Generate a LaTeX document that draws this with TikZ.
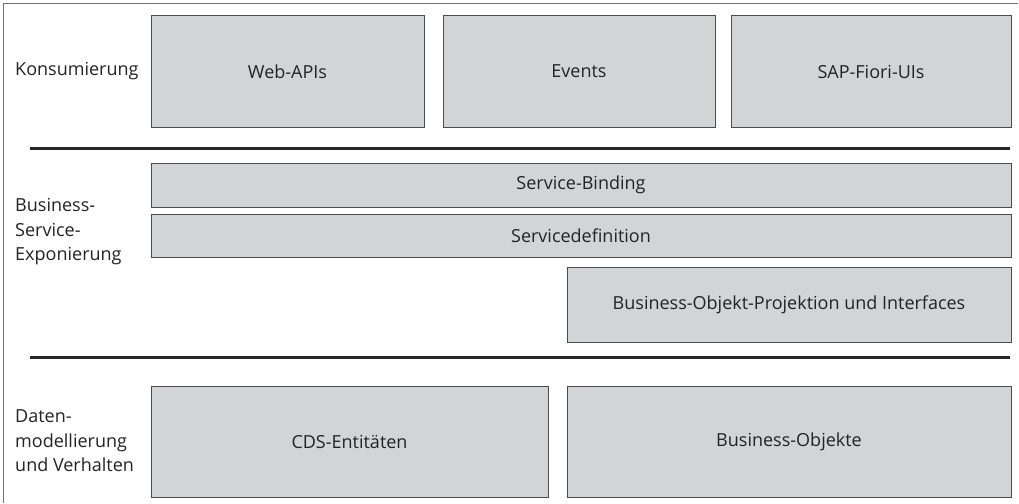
\documentclass[tikz,border=0pt]{standalone}
\usepackage{fontspec}
\setmainfont{Open Sans}
\definecolor{boxgray}{RGB}{211,212,214}
\definecolor{inkgray}{RGB}{35,35,35}
\begin{document}
\begin{tikzpicture}[x=1pt,y=-1pt]
		\tikzstyle{layer}=[draw=black!70,fill=boxgray,line width=1pt,text=inkgray,font=\fontsize{18}{22}\selectfont,inner sep=0pt]
		\tikzstyle{tier}=[anchor=west,align=left,text=inkgray,font=\fontsize{18}{24.5}\selectfont,inner sep=0pt]
		\tikzstyle{divider}=[line width=3pt,black!85]
		\useasboundingbox (0,0) rectangle (1019,503);
		\draw[black!55,line width=1pt] (3,503) -- (3,4) -- (1018,4);
		% Konsumierung
		\node[tier] (t_kons) at (15,71.5) {Konsumierung};
		\node[layer,minimum width=273pt,minimum height=111pt] (webapi) at (287.5,71.5) {Web-APIs};
		\node[layer,minimum width=272pt,minimum height=111pt] (events) at (579,71.5) {Events};
		\node[layer,minimum width=280pt,minimum height=111pt] (fiori) at (871,71.5) {SAP-Fiori-UIs};
		\coordinate (d1_l) at (30,148);
		\coordinate (d1_r) at (1010,148);
		\draw[divider] (d1_l) -- (d1_r);
		% Business-Service-Exponierung
		\node[tier] (t_expo) at (15,232) {Business-\\Service-\\Exponierung};
		\node[layer,minimum width=860pt,minimum height=44pt] (binding) at (581,185) {Service-Binding};
		\node[layer,minimum width=860pt,minimum height=43pt] (servdef) at (581,235.5) {Servicedefinition};
		\node[layer,minimum width=444pt,minimum height=75pt] (bop) at (789,304.5) {Business-Objekt-Projektion und Interfaces};
		\coordinate (d2_l) at (30,357);
		\coordinate (d2_r) at (1010,357);
		\draw[divider] (d2_l) -- (d2_r);
		% Datenmodellierung
		\node[tier] (t_daten) at (15,441) {Daten-\\modellierung\\und Verhalten};
		\node[layer,minimum width=397pt,minimum height=111pt] (cds) at (349.5,441.5) {CDS-Entitäten};
		\node[layer,minimum width=444pt,minimum height=111pt] (bo) at (789,441.5) {Business-Objekte};
	\end{tikzpicture}
\end{document}
